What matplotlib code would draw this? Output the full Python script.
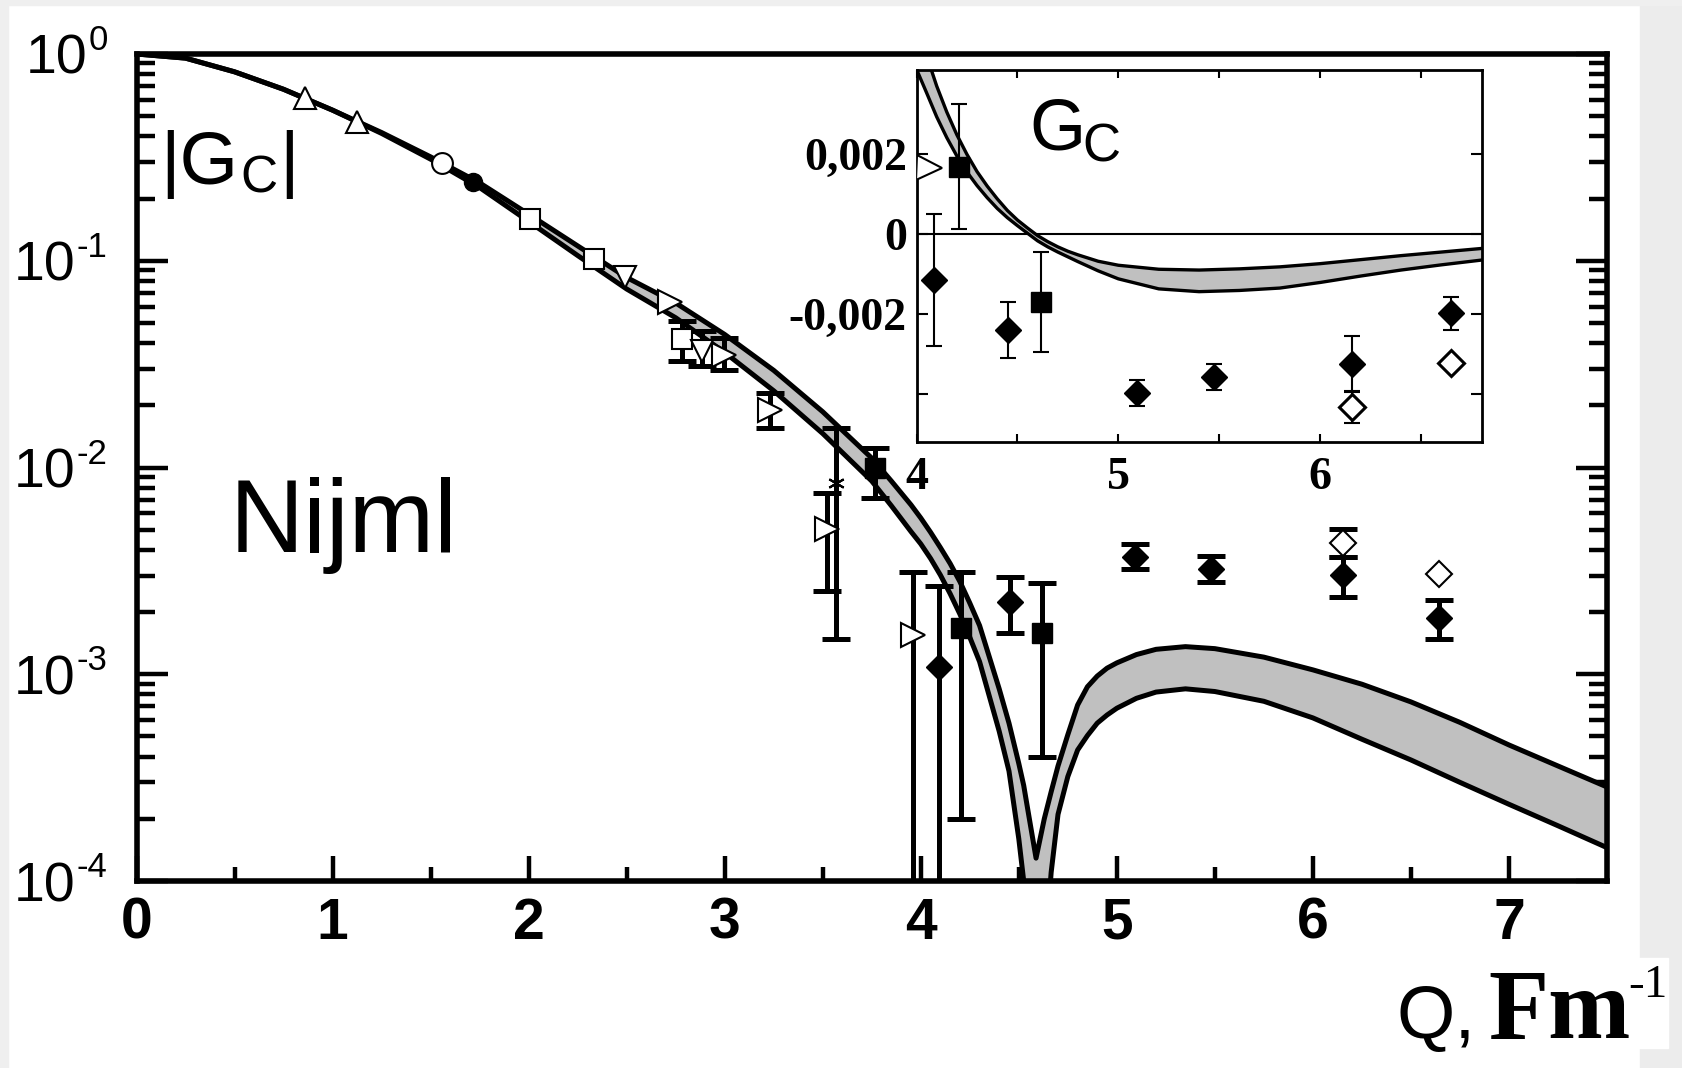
import matplotlib
matplotlib.use('Agg')
import matplotlib.pyplot as plt
from matplotlib.patches import Rectangle

W, H = 1682, 1068
SANS = 'Liberation Sans'
SERIF = 'Liberation Serif'

# theory band |G_C| for the main panel (upper / lower edge)
q_band = [0, 0.25, 0.5, 0.75, 1.0, 1.25, 1.5, 1.75, 2.0, 2.25, 2.5, 2.75,
          3.0, 3.25, 3.5, 3.75, 3.85, 3.95, 4.0, 4.05, 4.1, 4.15, 4.2, 4.25,
          4.3, 4.4, 4.45, 4.5, 4.525, 4.55, 4.588,
          4.63, 4.665, 4.7, 4.75, 4.8, 4.85, 4.9, 4.95, 5.0,
          5.1, 5.2, 5.35, 5.5, 5.75, 6.0, 6.25, 6.5, 6.75, 7.0, 7.25, 7.5]
gc_hi = [1.0, 0.955, 0.82, 0.675, 0.535, 0.417, 0.318, 0.238, 0.168, 0.118, 0.083, 0.0625,
         0.044, 0.0295, 0.0186, 0.0111, 0.0086, 0.0066, 0.0057, 0.00486, 0.0041, 0.00343, 0.0028, 0.00221,
         0.00172, 0.00085, 0.00058, 0.00037, 0.00029, 0.00021, 0.000129,
         0.0002, 0.00027, 0.00036, 0.00051, 0.00071, 0.00087, 0.00098, 0.00107, 0.001135,
         0.001245, 0.00132, 0.00136, 0.00133, 0.00121, 0.00105, 0.000895, 0.000735, 0.000585,
         0.000455, 0.00036, 0.000285]
gc_lo = [1.0, 0.955, 0.82, 0.675, 0.535, 0.413, 0.31, 0.226, 0.155, 0.106, 0.073, 0.053,
         0.036, 0.0235, 0.0146, 0.0086, 0.00653, 0.0049, 0.00427, 0.00363, 0.00302, 0.00245, 0.00195, 0.00151,
         0.00115, 0.00053, 0.00034, 0.00016, 0.0001, 5e-5, 3e-5,
         4e-5, 1.1e-4, 2.1e-4, 3.2e-4, 4.3e-4, 5.05e-4, 5.8e-4, 6.35e-4, 6.85e-4,
         7.65e-4, 8.2e-4, 8.5e-4, 8.25e-4, 7.4e-4, 6.15e-4, 4.85e-4, 3.85e-4, 3.0e-4,
         2.35e-4, 1.85e-4, 1.45e-4]

# measured |G_C| points (main panel); lo/hi = error bars, 0 = none
q_tri_up = [0.86, 1.123]
g_tri_up = [0.61, 0.471]
q_circ = [1.557]
g_circ = [0.296]
q_dot = [1.718]
g_dot = [0.241]
q_sq = [2.008, 2.331, 2.78]
g_sq = [0.160, 0.102, 0.0419]
lo_sq = [0, 0, 0.0093]
hi_sq = [0, 0, 0.0093]
q_tri_dn = [2.492, 2.885]
g_tri_dn = [0.0838, 0.0364]
lo_tri_dn = [0, 0.0056]
hi_tri_dn = [0, 0.0091]
q_tri_r = [2.72, 2.994, 3.232, 3.524, 3.958]
g_tri_r = [0.0634, 0.035, 0.019, 0.00502, 0.00154]
lo_tri_r = [0, 0.0054, 0.0035, 0.0025, 0.0016]
hi_tri_r = [0, 0.0071, 0.0038, 0.0025, 0.0016]
q_ast = [3.567]
g_ast = [0.00843]
lo_ast = [0.00695]
hi_ast = [0.0071]
q_fsq = [3.768, 4.205, 4.619]
g_fsq = [0.0099, 0.00167, 0.00158]
lo_fsq = [0.0028, 0.00147, 0.00118]
hi_fsq = [0.0025, 0.00144, 0.00119]
q_fd = [4.094, 4.457, 5.093, 5.48, 6.155, 6.645]
g_fd = [0.00109, 0.00224, 0.00369, 0.00322, 0.00301, 0.00187]
lo_fd = [0.0011, 0.00065, 0.00047, 0.00044, 0.00064, 0.00039]
hi_fd = [0.00157, 0.00072, 0.00059, 0.00052, 0.00068, 0.00041]
q_od = [6.155, 6.645]
g_od = [0.00433, 0.00305]
lo_od = [0.00064, 0]
hi_od = [0.00069, 0]

# inset: signed G_C band
q_in = [3.98, 4.0, 4.05, 4.1, 4.15, 4.2, 4.25, 4.3, 4.35, 4.4, 4.45, 4.5, 4.55,
        4.6, 4.65, 4.7, 4.75, 4.8, 4.9, 5.0, 5.2, 5.4, 5.6, 5.8, 6.0, 6.2, 6.4, 6.6, 6.8]
gin_hi = [0.0056, 0.00532, 0.00446, 0.0037, 0.00305, 0.00248, 0.00199, 0.00156, 0.0012, 0.00088,
          0.00059, 0.00035, 0.00015, -0.00004, -0.00019, -0.00032, -0.00043, -0.00052, -0.00068,
          -0.00078, -0.00088, -0.0009, -0.00087, -0.00082, -0.00074, -0.00064, -0.00054, -0.00045, -0.00036]
gin_lo = [0.0044, 0.00412, 0.00353, 0.00293, 0.00241, 0.00195, 0.00155, 0.00121, 0.00091, 0.00064,
          0.00041, 0.00021, 0.00002, -0.00017, -0.00032, -0.00045, -0.00057, -0.00069, -0.00092,
          -0.00112, -0.00137, -0.00144, -0.00141, -0.00135, -0.00121, -0.00105, -0.0009, -0.00077, -0.00065]

# inset points
q_in_tri = [4.06]
g_in_tri = [0.00164]
q_in_sq = [4.213, 4.618]
g_in_sq = [0.00168, -0.00169]
e_in_sq = [0.00156, 0.00125]
q_in_fd = [4.089, 4.455, 5.091, 5.473, 6.157, 6.647]
g_in_fd = [-0.00115, -0.0024, -0.00397, -0.00357, -0.00325, -0.00198]
e_in_fd = [0.00165, 0.00071, 0.00032, 0.00033, 0.0007, 0.00041]
q_in_od = [6.157, 6.647]
g_in_od = [-0.00432, -0.00323]
e_in_od = [0.0004, 0]


def fx(px):
    return px / W


def fy(py):
    return 1 - py / H


def points(ax, q, g, lo, hi, ebar, **mk):
    # error bars first (only where there is one), then the markers
    sel = [i for i in range(len(q)) if lo[i] or hi[i]]
    if sel:
        ax.errorbar([q[i] for i in sel], [g[i] for i in sel],
                    yerr=[[lo[i] for i in sel], [hi[i] for i in sel]],
                    fmt='none', ecolor='k', zorder=3, **ebar)
    ax.plot(q, g, ls='none', zorder=4, **mk)


fig = plt.figure(figsize=(W / 100, H / 100), dpi=100)

# light grey page edges
fig.patches.append(Rectangle((fx(1640), 0), fx(W - 1640), 1, transform=fig.transFigure,
                             color='#ececec', zorder=-2))
fig.patches.append(Rectangle((0, 0), fx(8), 1, transform=fig.transFigure,
                             color='#efefef', zorder=-2))
fig.patches.append(Rectangle((0, fy(5)), 1, 5 / H, transform=fig.transFigure,
                             color='#efefef', zorder=-2))
fig.patches.append(Rectangle((fx(1400), fy(1048)), fx(268), 90 / H, transform=fig.transFigure,
                             color='white', zorder=-1))

# ---------------- main panel ----------------
ax = fig.add_axes([fx(136.5), fy(881), fx(1607 - 136.5), (881 - 54) / H])
ax.set_yscale('log')
ax.set_xlim(0, 7.5)
ax.set_ylim(1e-4, 1)

ax.fill_between(q_band, gc_lo, gc_hi, color='#c0c0c0', lw=0, zorder=2)
ax.plot(q_band, gc_hi, color='k', lw=3.6, zorder=2.5, solid_joinstyle='round')
ax.plot(q_band, gc_lo, color='k', lw=3.6, zorder=2.5, solid_joinstyle='round')

eb = dict(elinewidth=3.6, capsize=10, capthick=3.6)
openm = dict(mfc='white', mec='k', mew=1.5)
points(ax, q_tri_up, g_tri_up, [0, 0], [0, 0], eb, marker='^', ms=16, **openm)
points(ax, q_circ, g_circ, [0], [0], eb, marker='o', ms=15, **openm)
points(ax, q_dot, g_dot, [0], [0], eb, marker='o', ms=13, color='k')
points(ax, q_sq, g_sq, lo_sq, hi_sq, eb, marker='s', ms=14, **openm)
points(ax, q_tri_dn, g_tri_dn, lo_tri_dn, hi_tri_dn, eb, marker='v', ms=16, **openm)
points(ax, q_tri_r, g_tri_r, lo_tri_r, hi_tri_r, eb, marker='>', ms=17, **openm)
points(ax, q_ast, g_ast, lo_ast, hi_ast, eb, marker=(6, 2, 0), ms=12, color='k', mew=1.5)
points(ax, q_fsq, g_fsq, lo_fsq, hi_fsq, eb, marker='s', ms=15, color='k')
points(ax, q_fd, g_fd, lo_fd, hi_fd, eb, marker='D', ms=13.5, color='k')
points(ax, q_od, g_od, lo_od, hi_od, eb, marker='D', ms=13, **openm)

for s in ax.spines.values():
    s.set_linewidth(4)
ax.set_xticks(range(8))
ax.set_xticklabels([str(i) for i in range(8)], fontsize=41, fontweight='bold', family=SANS)
ax.set_xticks([0.5 + i for i in range(7)], minor=True)
ax.tick_params(axis='x', which='major', direction='in', length=18, width=3.2, top=False, pad=11.5)
ax.tick_params(axis='x', which='minor', direction='in', length=10, width=3.2, top=False)
ax.tick_params(axis='y', which='major', direction='in', length=22, width=3.2,
               left=True, right=True, labelleft=False)
ax.tick_params(axis='y', which='minor', direction='in', length=13, width=3.2,
               left=True, right=True, labelleft=False)

# decade labels 10^k drawn by hand so the exponent sits like in the original
renderer = fig.canvas.get_renderer()
for k in range(-4, 1):
    sup = ax.annotate(str(k), xy=(0, 10.0 ** k), xycoords=('axes fraction', 'data'),
                      xytext=(-29, 4), textcoords='offset pixels', ha='right', va='baseline',
                      fontsize=25, family=SANS, annotation_clip=False)
    w = sup.get_window_extent(renderer).width
    ax.annotate('10', xy=(0, 10.0 ** k), xycoords=('axes fraction', 'data'),
                xytext=(-30 - w, -20), textcoords='offset pixels', ha='right', va='baseline',
                fontsize=40, family=SANS, annotation_clip=False)

fig.text(fx(160), fy(184), '|G', fontsize=54, family=SANS, va='baseline')
fig.text(fx(240), fy(193), 'C', fontsize=37, family=SANS, va='baseline')
fig.text(fx(279), fy(184), '|', fontsize=54, family=SANS, va='baseline')
fig.text(fx(230), fy(552), 'Nijml', fontsize=74, family=SANS, va='baseline')

# axis title in the bottom right corner
fig.text(fx(1396), fy(1038), 'Q,', fontsize=54, family=SANS, va='baseline')
fig.text(fx(1488), fy(1038), 'Fm', fontsize=71, family=SERIF, fontweight='bold', va='baseline')
fig.text(fx(1628), fy(997), '-1', fontsize=34, family=SERIF, va='baseline')

# ---------------- inset ----------------
ax_in = fig.add_axes([fx(916.5), fy(441.7), fx(1481.7 - 916.5), (441.7 - 70) / H])
ax_in.set_xlim(4, 6.8)
ax_in.set_ylim(-0.00519, 0.0041)
ax_in.axhline(0, color='k', lw=1.5, zorder=1)
ax_in.fill_between(q_in, gin_lo, gin_hi, color='#c0c0c0', lw=0, zorder=2)
ax_in.plot(q_in, gin_hi, color='k', lw=2.4, zorder=2.5)
ax_in.plot(q_in, gin_lo, color='k', lw=2.4, zorder=2.5)

eb_in = dict(elinewidth=1.5, capsize=6, capthick=1.5)
points(ax_in, q_in_tri, g_in_tri, [0], [0], eb_in, marker='>', ms=18, mfc='white', mec='k', mew=1.5)
points(ax_in, q_in_sq, g_in_sq, e_in_sq, e_in_sq, eb_in, marker='s', ms=15, color='k')
points(ax_in, q_in_fd, g_in_fd, e_in_fd, e_in_fd, eb_in, marker='D', ms=13, color='k')
points(ax_in, q_in_od, g_in_od, e_in_od, e_in_od, eb_in, marker='D', ms=13,
       mfc='white', mec='k', mew=2.2)

for s in ax_in.spines.values():
    s.set_linewidth(2)
ax_in.set_xticks([4, 5, 6])
ax_in.set_xticklabels(['4', '5', '6'], fontsize=33, fontweight='bold', family=SERIF)
ax_in.set_xticks([4.5, 5.5, 6.5], minor=True)
ax_in.set_yticks([0.002, 0, -0.002, -0.004])
ax_in.set_yticklabels(['0,002', '0', '-0,002', ''], fontsize=33, fontweight='bold', family=SERIF)
ax_in.tick_params(axis='x', which='both', direction='in', length=6, width=1.5,
                  top=True, bottom=True, pad=11)
ax_in.tick_params(axis='y', direction='in', length=8, width=1.5, left=True, right=True, pad=7)

fig.text(fx(1029), fy(150), 'G', fontsize=52, family=SANS, va='baseline')
fig.text(fx(1082), fy(162), 'C', fontsize=38, family=SANS, va='baseline')

fig.savefig('out.png', dpi=100)
